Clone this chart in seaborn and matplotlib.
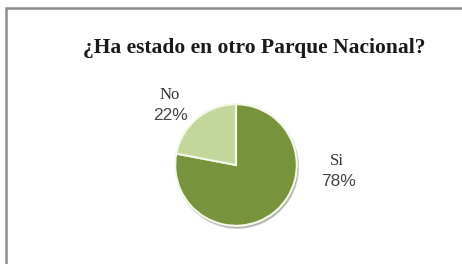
import matplotlib
matplotlib.use("Agg")
import matplotlib.pyplot as plt
import seaborn as sns
from matplotlib.patches import Rectangle

# data
categories = ["Si", "No"]
shares = [78, 22]
colors = ["#77933C", "#C3D69B"]
title = "¿Ha estado en otro Parque Nacional?"

sns.set_theme(style="white")
plt.rcParams["font.family"] = ["Liberation Serif", "DejaVu Serif"]

W, H = 462, 264
fig = plt.figure(figsize=(W / 100, H / 100), dpi=100)
fig.patch.set_facecolor("white")

# frame of the chart area (only top/left visible in the crop)
fig.patches.append(Rectangle((6 / W, -0.1), 1.2, (H - 8) / H + 0.1,
                             transform=fig.transFigure, fill=False,
                             edgecolor="#8c8c8c", linewidth=1.8))

cx, cy, r = 236, 165, 62
ax = fig.add_axes([(cx - r) / W, (H - cy - r) / H, 2 * r / W, 2 * r / H])
ax.pie(shares, colors=colors, startangle=90, counterclock=False,
       wedgeprops=dict(edgecolor="#f4f8e8", linewidth=1.5),
       shadow=dict(ox=0.015, oy=-0.025, shade=0.85, alpha=0.2))
ax.set_xlim(-1.02, 1.02)
ax.set_ylim(-1.02, 1.02)
ax.set_aspect("equal")
ax.axis("off")

fig.text(254 / W, 1 - 48 / H, title, ha="center", va="center",
         fontsize=15.5, fontweight="bold", color="#1a1a1a")

label_pos = {"Si": (337, 161), "No": (170, 95)}
for cat, val in zip(categories, shares):
    x, y = label_pos[cat]
    fig.text(x / W, 1 - y / H, cat, ha="center", va="center",
             fontsize=12, color="#333333")
    fig.text((x + 1) / W, 1 - (y + 21) / H, f"{val}%", ha="center", va="center",
             fontsize=12.5, color="#444444", family=["Liberation Sans", "DejaVu Sans"])

fig.savefig("out.png", dpi=100)
